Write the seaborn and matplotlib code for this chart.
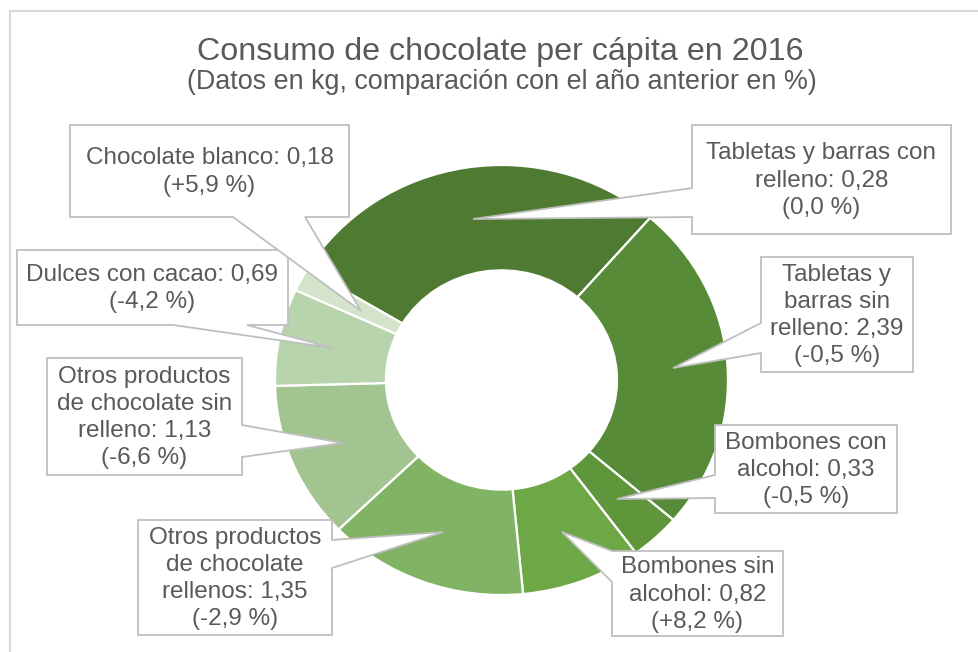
import textwrap
import matplotlib
matplotlib.use("Agg")
import matplotlib.pyplot as plt
import seaborn as sns
from matplotlib.patches import Polygon
from matplotlib.lines import Line2D

# ---------------- data ----------------
categories = [
    "Tabletas y barras con relleno",
    "Tabletas y barras sin relleno",
    "Bombones con alcohol",
    "Bombones sin alcohol",
    "Otros productos de chocolate rellenos",
    "Otros productos de chocolate sin relleno",
    "Dulces con cacao",
    "Chocolate blanco",
]
label_values = ["0,28", "2,39", "0,33", "0,82", "1,35", "1,13", "0,69", "0,18"]
label_changes = ["0,0 %", "-0,5 %", "-0,5 %", "+8,2 %", "-2,9 %", "-6,6 %", "-4,2 %", "+5,9 %"]
# slice sizes as drawn in the reference (share of the ring, %)
slice_share_pct = [27.8, 24.9, 3.6, 8.6, 14.3, 11.8, 7.3, 1.75]

title = "Consumo de chocolate per cápita en 2016"
subtitle = "(Datos en kg, comparación con el año anterior en %)"

# ---------------- style ----------------
sns.set_theme(style="white")
plt.rcParams["font.family"] = ["Liberation Sans", "DejaVu Sans"]

colors = ["#4E7B31", "#578B38", "#5F963B", "#6EA745", "#80B363",
          "#A1C491", "#B8D4AC", "#D3E4CB"]
TEXT = "#595959"
BOX_EDGE = "#BFBFBF"

W, H = 979, 652
fig = plt.figure(figsize=(W / 100, H / 100), dpi=100)
fig.patch.set_facecolor("white")

# donut axes (slightly wider than tall, as in the reference)
cx, cy, rx, ry = 501.5, 380.0, 226.5, 215.0
ax = fig.add_axes([(cx - rx) / W, 1 - (cy + ry) / H, 2 * rx / W, 2 * ry / H])
ax.pie(slice_share_pct, colors=colors, startangle=149, counterclock=False,
       radius=1.0,
       wedgeprops=dict(width=0.49, edgecolor="white", linewidth=1.6))
ax.set_xlim(-1, 1)
ax.set_ylim(-1, 1)
ax.set_aspect("auto")
ax.axis("off")

# overlay axes in pixel coordinates for frame, titles and callouts
ov = fig.add_axes([0, 0, 1, 1], zorder=5)
ov.set_xlim(0, W)
ov.set_ylim(H, 0)
ov.axis("off")
ov.patch.set_alpha(0)

# chart frame (top and left visible)
ov.add_line(Line2D([10, W], [11, 11], color="#D9D9D9", lw=1.5))
ov.add_line(Line2D([10, 10], [11, H], color="#D9D9D9", lw=1.5))

ov.text(500.5, 60, title, ha="center", va="baseline", fontsize=23.2, color=TEXT)
ov.text(501.5, 89, subtitle, ha="center", va="baseline", fontsize=19.4, color=TEXT)

# callout layout: box (x0, y0, x1, y1), pointer side, base span, tip, wrap width
callouts = [
    ((692, 125, 951, 234), "left", (188, 217), (473, 219), 21),
    ((761, 257, 913, 372), "left", (323, 353), (673, 368), 13),
    ((715, 425, 897, 513), "left", (475, 498), (617, 499), 13),
    ((612, 551, 783, 636), "left", (551, 582), (562, 532), 13),
    ((138, 520, 332, 635), "right", (540, 568), (443, 532), 15),
    ((47, 358, 242, 475), "right", (425, 457), (343, 443), 16),
    ((17, 250, 288, 325), "bottom", (173, 247), (333, 348), 22),
    ((70, 125, 349, 217), "bottom", (233, 305), (361, 311), 22),
]


def callout_points(box, side, base, tip):
    x0, y0, x1, y1 = box
    a, b = base
    pts = [(x0, y0)]
    if side == "top":
        pts += [(a, y0), tip, (b, y0)]
    pts.append((x1, y0))
    if side == "right":
        pts += [(x1, a), tip, (x1, b)]
    pts.append((x1, y1))
    if side == "bottom":
        pts += [(b, y1), tip, (a, y1)]
    pts.append((x0, y1))
    if side == "left":
        pts += [(x0, b), tip, (x0, a)]
    return pts


for i, (box, side, base, tip, wrap) in enumerate(callouts):
    pts = callout_points(box, side, base, tip)
    ov.add_patch(Polygon(pts, closed=True, facecolor="white", edgecolor=BOX_EDGE,
                         linewidth=1.3, joinstyle="miter", zorder=3 + i * 0.01))
    lines = textwrap.wrap(f"{categories[i]}: {label_values[i]}", wrap)
    lines.append(f"({label_changes[i]})")
    x0, y0, x1, y1 = box
    ov.text((x0 + x1) / 2, (y0 + y1) / 2 + 1, "\n".join(lines), ha="center",
            va="center", multialignment="center", fontsize=17.5, color=TEXT,
            linespacing=1.3, zorder=4 + i * 0.01)

fig.savefig("out.png", dpi=100, facecolor="white")
